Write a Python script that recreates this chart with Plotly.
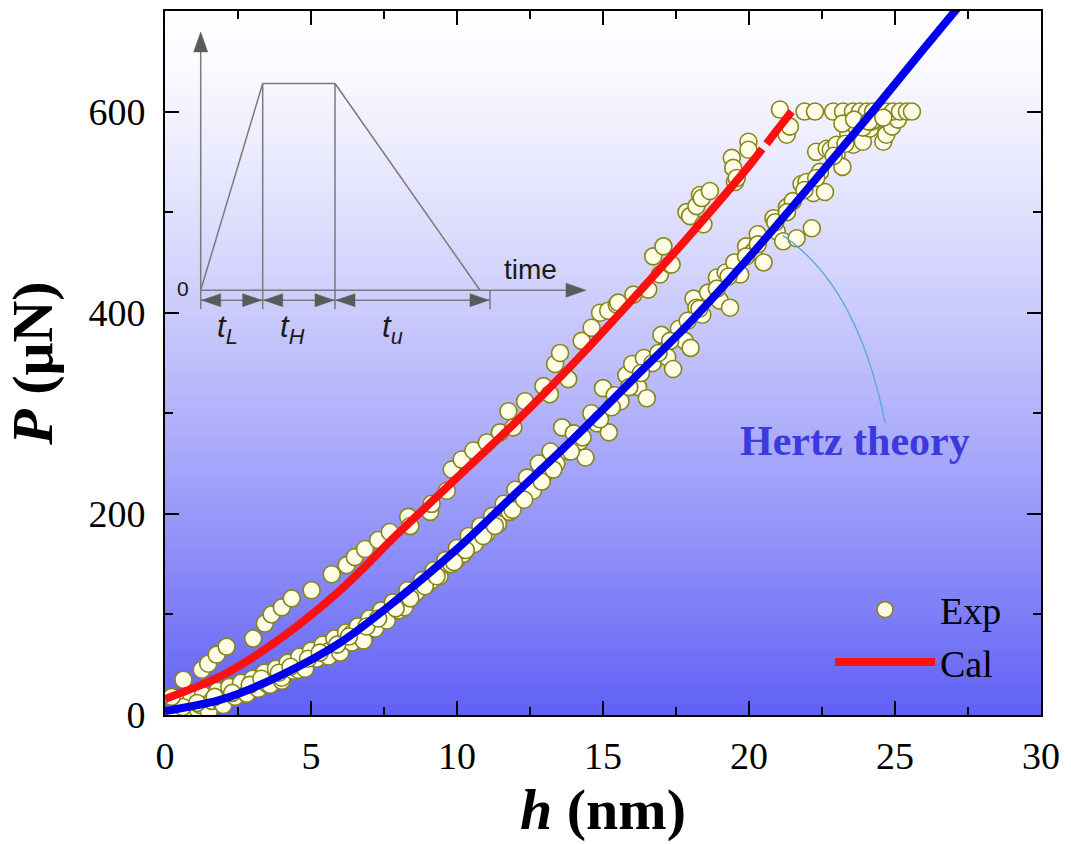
import plotly.graph_objects as go

# ---------------- data ----------------
# Hertz theory curve (blue)
hertz_h = [0, 2, 4, 6, 8, 10, 12, 14, 16, 18, 20, 22, 24, 26, 27.2]
hertz_P = [4, 16, 40, 72, 116, 165, 220, 275, 333, 391, 455, 523, 592, 663, 705]

# Calculated curve (red), with the small break seen near h = 20.5
cal_h = [0, 2, 4, 6, 8, 10, 12, 14, 16, 18, 20, 20.45, None, 20.6, 21.0, 21.46]
cal_P = [16, 40, 77, 124, 181, 236, 291, 350, 413, 478, 546, 563, None, 568, 583, 600]

# Experimental points: loading branch
exp_load_h = [0.3, 0.5, 0.7, 0.9, 1.0, 1.14, 1.2, 1.3, 1.5, 1.6, 1.8, 1.94, 2.0, 2.2, 2.4, 2.6,
              2.8, 3.0, 3.2, 3.4, 3.5, 3.6, 3.8, 4.0, 4.0, 4.2, 4.4, 4.57, 4.6, 4.8, 5.0, 5.2,
              5.4, 5.58, 5.6, 5.8, 6.0, 6.2, 6.4, 6.4, 6.6, 6.8, 7.0, 7.08, 7.2, 7.4, 7.6, 7.8,
              8.0, 8.2, 8.3, 8.6, 8.8, 9.0, 9.13, 9.2, 9.4, 9.6, 9.7, 9.8, 10.0, 10.0, 10.2,
              10.4, 10.6, 10.8, 11.0, 11.2, 11.4, 11.6, 11.8, 12.0, 12.2, 12.4, 12.6, 12.8,
              13.0, 13.2, 13.4, 13.6, 13.8, 14.0, 14.2, 14.4, 14.6, 14.8, 15.0, 15.2, 15.4,
              15.6, 15.8, 16.0, 16.2, 16.4, 16.5, 16.7, 17.0, 17.2, 17.4, 17.6, 17.8, 18.0,
              18.1, 18.2, 18.4, 18.6, 18.9, 19.0, 19.2, 19.35, 19.5, 19.7, 19.9, 20.15, 20.3,
              20.5, 20.84, 20.95, 21.17, 21.3, 21.5, 21.63, 21.8, 21.97, 22.15, 22.2, 22.3,
              22.43, 22.6, 22.66, 22.8, 23.0, 23.0, 23.2, 23.4, 23.57, 23.7, 23.9, 24.14,
              24.3, 24.5, 24.6, 24.7, 24.9, 25.1,
              0.6, 1.1, 1.7, 2.3, 2.9, 3.3, 3.9, 4.3, 4.9, 5.3, 5.9, 6.3, 6.9, 7.3, 7.9, 8.4,
              8.9, 9.3, 9.9, 10.3, 10.9, 11.3, 11.9, 12.3, 12.9, 13.3, 13.9, 14.3, 14.9, 15.3,
              15.9, 16.3, 16.9, 17.3, 17.9, 18.3, 18.9, 19.3, 19.9, 20.3, 20.9, 21.3, 21.9,
              22.3, 22.9, 23.3, 23.9, 24.2]
exp_load_P = [3, 12, 5, 16, 2, 5, 10, 20, 4, 14, 24, 12, 10, 28, 18, 32,
              21, 36, 26, 42, 31, 30, 46, 34, 37, 52, 44, 45, 58, 46, 64, 56,
              70, 63, 58, 76, 62, 82, 72, 81, 88, 74, 96, 89, 86, 104, 94, 112,
              104, 107, 124, 122, 134, 130, 134, 144, 138, 154, 150, 150, 166, 155, 160,
              178, 170, 188, 180, 198, 190, 210, 202, 224, 218, 236, 223, 250,
              240, 262, 250, 286, 262, 280, 272, 256, 300, 290, 325, 281, 318,
              312, 338, 349, 326, 355, 315, 350, 378, 356, 344, 384, 372, 365,
              414, 405, 398, 420, 435, 412, 440, 405, 450, 438, 466, 461, 478,
              450, 494, 481, 471, 505, 511, 474, 528, 530, 484, 519, 560,
              540, 520, 563, 562, 557, 567, 545, 578, 567, 583, 570, 583,
              596, 593, 570, 577, 585, 592,
              8, 12, 18, 22, 30, 36, 42, 48, 56, 62, 70, 78, 88, 96, 106, 116,
              128, 138, 152, 164, 178, 188, 204, 214, 232, 244, 262, 276, 294, 306,
              326, 340, 360, 372, 392, 404, 424, 436, 456, 468, 490, 500, 522,
              534, 556, 568, 584, 590]

# Experimental points: holding at maximum load
exp_hold_h = [21.9, 22.26, 22.88, 23.22, 23.56, 23.8, 24.04, 24.25, 24.49, 24.73, 24.93,
              25.17, 25.41, 25.58, 23.2, 23.6, 24.1, 24.6]
exp_hold_P = [600, 600, 600, 600, 600, 600, 600, 600, 600, 600, 600,
              600, 600, 600, 588, 592, 590, 594]

# Experimental points: unloading branch
exp_unload_h = [0.23, 0.63, 1.26, 1.48, 1.77, 2.11, 3.02, 3.42, 3.65, 4.0, 4.34, 5.02, 5.71,
                6.22, 6.5, 6.85, 7.3, 7.7, 8.33, 8.4, 9.08, 9.13, 9.65, 9.82, 10.16, 10.56,
                11.02, 11.47, 11.76, 11.93, 12.33, 12.96, 13.18, 13.36, 13.53, 13.81, 14.27,
                14.61, 14.9, 15.18, 15.47, 15.52, 16.04, 16.55, 16.72, 16.95, 17.07, 17.3,
                17.35, 17.86, 17.98, 18.2, 18.32, 18.38, 18.44, 18.66, 19.41, 19.46, 19.52,
                19.58, 19.98, 19.98, 21.06, 21.29, 21.4]
exp_unload_P = [18, 35, 45, 51, 60, 68, 76, 91, 100, 107, 116, 124, 140,
                149, 157, 165, 174, 182, 197, 188, 202, 210, 223, 244, 254, 263,
                271, 281, 302, 286, 312, 327, 319, 349, 360, 334, 372,
                385, 400, 402, 408, 410, 418, 423, 456, 438, 466, 448,
                448, 500, 496, 506, 517, 514, 488, 521, 554, 544, 530,
                534, 570, 562, 602, 577, 585]

exp_h = exp_load_h + exp_hold_h + exp_unload_h
exp_P = exp_load_P + exp_hold_P + exp_unload_P

x_ticks = [0, 5, 10, 15, 20, 25, 30]
y_ticks = [0, 200, 400, 600]

# ---------------- layout helpers ----------------
W, H = 1071, 844
L, R, T, B = 165, 30, 9, 129
PW, PH = W - L - R, H - T - B


def px(x, y):
    """pixel position -> paper coordinates"""
    return (x - L) / PW, (H - B - y) / PH


serif = "Liberation Serif, Times New Roman, serif"
sans = "Liberation Sans, Arial, sans-serif"

fig = go.Figure()

fig.add_trace(go.Scatter(
    x=exp_h, y=exp_P, mode="markers", name="Exp",
    marker=dict(size=17, color="#fffde6", line=dict(color="#86861a", width=1.6)),
))
fig.add_trace(go.Scatter(
    x=cal_h, y=cal_P, mode="lines", name="Cal", connectgaps=False,
    line=dict(color="#ff1010", width=8, shape="spline"),
))
fig.add_trace(go.Scatter(
    x=hertz_h, y=hertz_P, mode="lines", name="Hertz theory", showlegend=False,
    line=dict(color="#0000ee", width=8, shape="spline"),
))

shapes = []
# vertical background gradient (white at top -> blue at bottom)
N = 140
top = (255, 255, 255)
bot = (96, 96, 246)
for i in range(N):
    f = ((i + 0.5) / N) ** 1.3
    c = tuple(round(top[k] + (bot[k] - top[k]) * f) for k in range(3))
    y1 = 1 - i / N
    y0 = 1 - (i + 1) / N - 0.002
    shapes.append(dict(type="rect", xref="paper", yref="paper", x0=0, x1=1,
                       y0=max(y0, 0), y1=y1, line=dict(width=0),
                       fillcolor="rgb(%d,%d,%d)" % c, layer="below"))

# inset: loading protocol sketch
g = "#7a7a7a"
ga = "#5a5a5a"


def seg(x0, y0, x1, y1, color=g, w=1.5):
    a = px(x0, y0)
    b = px(x1, y1)
    shapes.append(dict(type="line", xref="paper", yref="paper",
                       x0=a[0], y0=a[1], x1=b[0], y1=b[1],
                       line=dict(color=color, width=w)))


def tri(pts, color=ga):
    p = [px(*q) for q in pts]
    path = "M %f,%f L %f,%f L %f,%f Z" % (p[0][0], p[0][1], p[1][0], p[1][1], p[2][0], p[2][1])
    shapes.append(dict(type="path", xref="paper", yref="paper", path=path,
                       fillcolor=color, line=dict(color=color, width=0.5)))


x0i, yb = 200.7, 289
seg(x0i, yb, x0i, 48)                       # vertical axis
tri([(x0i, 30), (x0i - 7, 50), (x0i + 7, 50)])
seg(x0i, yb, 568, yb)                       # time axis
tri([(586, yb), (566, yb - 7), (566, yb + 7)])
# trapezoid load profile
seg(x0i, yb, 262.7, 81.7)
seg(262.7, 81.7, 335, 81.7)
seg(335, 81.7, 480, yb)
seg(262.7, 81.7, 262.7, 308)
seg(335, 81.7, 335, 308)
seg(x0i, yb, x0i, 308)
seg(490, yb, 490, 308)
# dimension arrows
yd = 299
seg(x0i, yd, 490, yd)
for a, b in [(x0i, 262.7), (262.7, 335), (335, 490)]:
    tri([(a + 1, yd), (a + 20, yd - 6.5), (a + 20, yd + 6.5)])
    tri([(b - 1, yd), (b - 20, yd - 6.5), (b - 20, yd + 6.5)])

# Hertz theory pointer arc (data coordinates)
shapes.append(dict(type="path", xref="x", yref="y",
                   path="M 21.16,476.9 Q 23.73,426.3 24.66,290.5",
                   line=dict(color="#58a8dc", width=1.3)))

annotations = []


def txt(x, y, text, size, family=sans, color="#1a1a1a", xanchor="center"):
    p = px(x, y)
    annotations.append(dict(x=p[0], y=p[1], xref="paper", yref="paper", text=text,
                            showarrow=False, xanchor=xanchor, yanchor="middle",
                            font=dict(family=family, size=size, color=color)))


txt(530, 268, "time", 28)
txt(183, 287, "0", 21)
txt(227, 328, "<i>t</i><sub><i>L</i></sub>", 31)
txt(292, 328, "<i>t</i><sub><i>H</i></sub>", 31)
txt(392, 328, "<i>t</i><sub><i>u</i></sub>", 31)
txt(855, 440, "<b>Hertz theory</b>", 42, family=serif, color="#3a3ade")

axis_common = dict(
    showline=True, linecolor="black", linewidth=2, mirror="allticks",
    ticks="inside", ticklen=14, tickwidth=2, tickcolor="black",
    showgrid=False, zeroline=False,
    tickfont=dict(family=serif, size=38, color="black"),
)

fig.update_layout(
    width=W, height=H,
    margin=dict(l=L, r=R, t=T, b=B),
    paper_bgcolor="white", plot_bgcolor="white",
    showlegend=True,
    legend=dict(x=(830 - L) / PW, xanchor="left", y=(H - B - 578) / PH, yanchor="top",
                bgcolor="rgba(0,0,0,0)", borderwidth=0, itemwidth=100,
                font=dict(family=serif, size=38, color="black"), tracegroupgap=0),
    xaxis=dict(range=[0, 30], tickvals=x_ticks, ticktext=[str(v) for v in x_ticks],
               minor=dict(ticks="inside", ticklen=8, tickwidth=2, dtick=2.5, tick0=0,
                          tickcolor="black"),
               ticklabelstandoff=6,
               title=dict(text="<b><i>h</i> (nm)</b>", standoff=12,
                          font=dict(family=serif, size=58, color="black")),
               **axis_common),
    yaxis=dict(range=[0, 700], tickvals=y_ticks, ticktext=[str(v) for v in y_ticks],
               minor=dict(ticks="inside", ticklen=8, tickwidth=2, dtick=100, tick0=0,
                          tickcolor="black"),
               ticklabelstandoff=10,
               title=dict(text="<b><i>P</i> (μN)</b>", standoff=18,
                          font=dict(family=serif, size=58, color="black")),
               **axis_common),
    shapes=shapes,
    annotations=annotations,
)

fig.write_html("out.html")
